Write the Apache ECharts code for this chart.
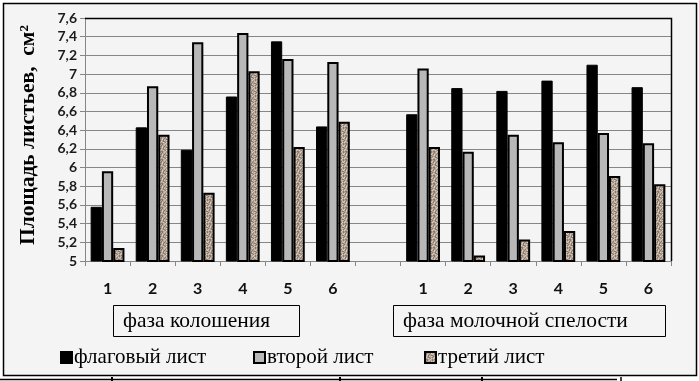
<!DOCTYPE html>
<html>
<head>
<meta charset="utf-8">
<script src="https://cdn.jsdelivr.net/npm/echarts@6/dist/echarts.min.js"></script>
<style>
html,body{margin:0;padding:0;background:#fff;}
#c{width:699px;height:381px;}
</style>
</head>
<body>
<div id="c"></div>
<script>
// ---- data ----
const categories = ['1','2','3','4','5','6','','1','2','3','4','5','6'];
const seriesNames = ['флаговый лист','второй лист','третий лист'];
const flagLeaf   = [5.58, 6.43, 6.19, 6.76, 7.35, 6.44, null, 6.57, 6.85, 6.82, 6.93, 7.10, 6.86];
const secondLeaf = [5.96, 6.87, 7.34, 7.44, 7.16, 7.13, null, 7.06, 6.17, 6.35, 6.27, 6.37, 6.26];
const thirdLeaf  = [5.14, 6.35, 5.73, 7.03, 6.22, 6.49, null, 6.22, 5.06, 5.23, 5.32, 5.91, 5.82];
const yTickLabels = ['5','5,2','5,4','5,6','5,8','6','6,2','6,4','6,6','6,8','7','7,2','7,4','7,6'];
const phaseLabels = ['фаза колошения','фаза молочной спелости'];
const yAxisTitle = 'Площадь листьев,  см²';

// ---- texture for third series (fixed speckle map) ----
function makeTexture(){
  const map = [
    'aabacaab',
    'cbaaabca',
    'abcabaac',
    'aacbaabb',
    'baabcaca',
    'acabbaab',
    'caacabca',
    'abbaacab'
  ];
  const col = {a:'#b4a596', b:'#8a796b', c:'#d6ccc1'};
  const cv = document.createElement('canvas');
  cv.width = 8; cv.height = 8;
  const ctx = cv.getContext('2d');
  for (let y=0;y<8;y++) for (let x=0;x<8;x++){
    ctx.fillStyle = col[map[y][x]];
    ctx.fillRect(x,y,1,1);
  }
  return cv;
}
const tex = makeTexture();

const GL = 85, GR = 28, GT = 18, GB = 120, W = 699, H = 381;
const plotRight = W - GR, plotBottom = H - GB;

const chart = echarts.init(document.getElementById('c'), null, {renderer:'canvas'});
const legendBase = {
  padding: 0, itemWidth: 11, itemHeight: 11, top: 347, icon: 'rect',
  selectedMode: false,
  textStyle: {fontFamily: 'Liberation Serif', fontSize: 21, color: '#000', padding: [0,0,0,-3]}
};
chart.setOption({
  backgroundColor: '#ffffff',
  animation: false,
  grid: {left: GL, right: GR, top: GT, bottom: GB},
  legend: [
    Object.assign({}, legendBase, {data: [seriesNames[0]], left: 60}),
    Object.assign({}, legendBase, {data: [seriesNames[1]], left: 253}),
    Object.assign({}, legendBase, {data: [seriesNames[2]], left: 424})
  ],
  xAxis: {
    type: 'category',
    data: categories,
    axisLine: {lineStyle: {color: '#868686', width: 1}},
    axisTick: {show: true, interval: 0, length: 5, lineStyle: {color: '#868686'}},
    axisLabel: {interval: 0, margin: 20, fontFamily: 'Lato', fontWeight: 'bold', fontSize: 16, color: '#111'}
  },
  yAxis: {
    type: 'value',
    min: 5, max: 7.6, interval: 0.2,
    axisLine: {show: true, lineStyle: {color: '#868686', width: 1}},
    axisTick: {show: true, length: 5, lineStyle: {color: '#868686'}},
    splitLine: {lineStyle: {color: '#868686', width: 1}},
    axisLabel: {
      margin: 8, fontFamily: 'Lato', fontWeight: 'bold', fontSize: 14, color: '#1a1a1a',
      formatter: function(v){ const i = Math.round((v-5)/0.2); return yTickLabels[i] || ''; }
    }
  },
  series: [
    {name: seriesNames[0], type: 'bar', data: flagLeaf, barGap: '0%', barCategoryGap: '25%',
     itemStyle: {color: '#000', borderColor: '#000', borderWidth: 1}},
    {name: seriesNames[1], type: 'bar', data: secondLeaf, barGap: '0%', barCategoryGap: '25%',
     itemStyle: {color: '#b8b8b8', borderColor: '#000', borderWidth: 2}},
    {name: seriesNames[2], type: 'bar', data: thirdLeaf, barGap: '0%', barCategoryGap: '25%',
     itemStyle: {color: {image: tex, repeat: 'repeat'}, borderColor: '#000', borderWidth: 2}}
  ],
  graphic: [
    {type: 'rect', z: -100, silent: true, shape: {x: 3.5, y: 3.5, width: 693, height: 372},
     style: {fill: '#f4f4f4', stroke: '#000', lineWidth: 1.5}},
    {type: 'polyline', z: 10, silent: true,
     shape: {points: [[GL, GT + 0.5], [plotRight + 0.5, GT + 0.5], [plotRight + 0.5, plotBottom]]},
     style: {fill: null, stroke: '#000', lineWidth: 1.5}},
    {type: 'text', z: 10, x: 28, y: 135, rotation: Math.PI/2,
     style: {text: yAxisTitle, fontFamily: 'Liberation Serif', fontWeight: 'bold', fontSize: 21.5,
             fill: '#000', align: 'center', verticalAlign: 'middle'}},
    {type: 'rect', z: 10, shape: {x: 113.5, y: 305.5, width: 186, height: 31},
     style: {fill: '#f4f4f4', stroke: '#000', lineWidth: 1}},
    {type: 'text', z: 11, x: 123, y: 321,
     style: {text: phaseLabels[0], fontFamily: 'Liberation Serif', fontSize: 21.5, fill: '#000',
             align: 'left', verticalAlign: 'middle'}},
    {type: 'rect', z: 10, shape: {x: 393.5, y: 305.5, width: 272, height: 31},
     style: {fill: '#f4f4f4', stroke: '#000', lineWidth: 1}},
    {type: 'text', z: 11, x: 403, y: 321,
     style: {text: phaseLabels[1], fontFamily: 'Liberation Serif', fontSize: 21.5, fill: '#000',
             align: 'left', verticalAlign: 'middle'}},
    // fragment of the next figure's frame below
    {type: 'line', silent: true, shape: {x1: 0, y1: 379.5, x2: 617, y2: 379.5}, style: {stroke: '#000', lineWidth: 1.5}},
    {type: 'line', silent: true, shape: {x1: 112, y1: 377, x2: 112, y2: 381}, style: {stroke: '#000', lineWidth: 2}},
    {type: 'line', silent: true, shape: {x1: 340, y1: 377, x2: 340, y2: 381}, style: {stroke: '#000', lineWidth: 2}},
    {type: 'line', silent: true, shape: {x1: 482, y1: 377, x2: 482, y2: 381}, style: {stroke: '#000', lineWidth: 2}},
    {type: 'line', silent: true, shape: {x1: 621, y1: 377, x2: 621, y2: 381}, style: {stroke: '#000', lineWidth: 1.5}}
  ]
});
</script>
</body>
</html>
